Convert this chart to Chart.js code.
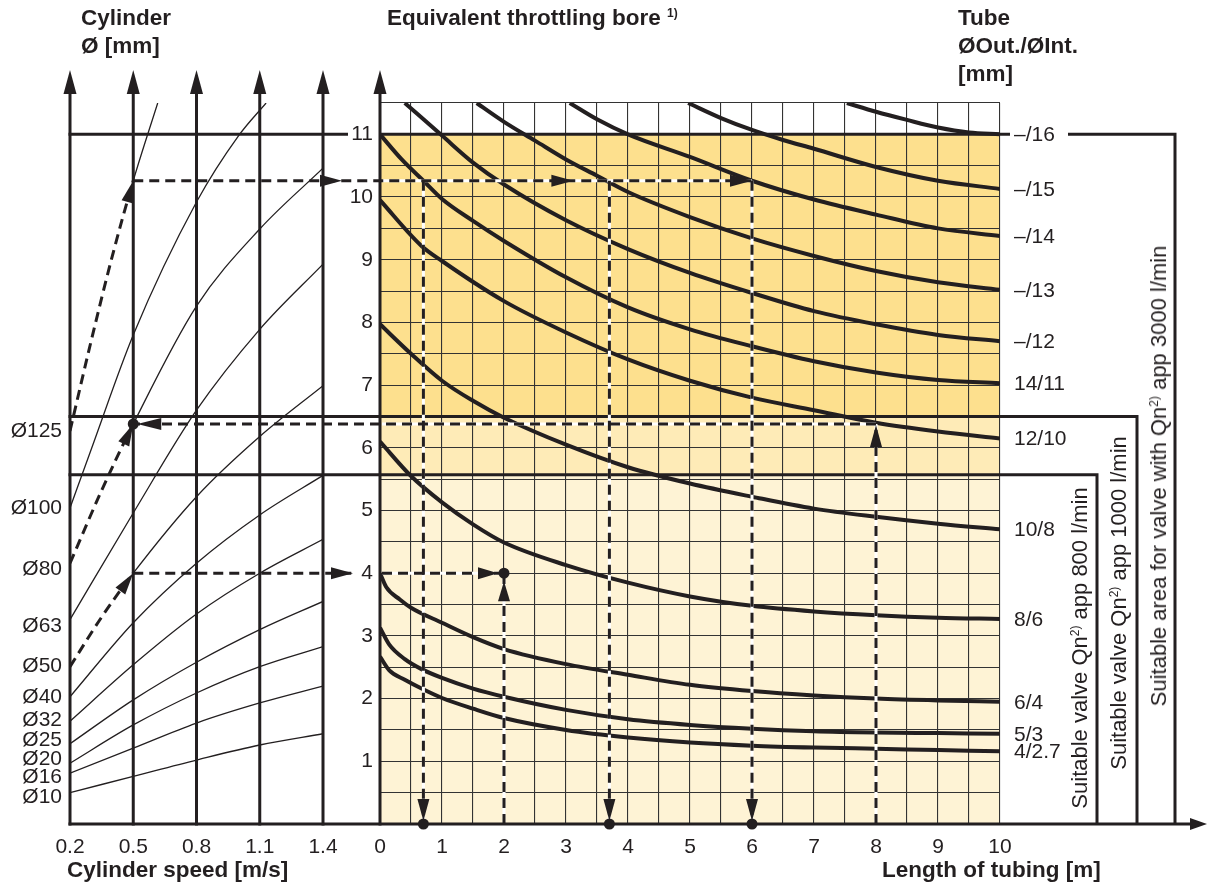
<!DOCTYPE html>
<html>
<head>
<meta charset="utf-8">
<script src="https://cdn.jsdelivr.net/npm/chart.js@4.4.1/dist/chart.umd.min.js"></script>
<style>
  html, body { margin: 0; padding: 0; background: #fff; }
  #wrap { position: relative; width: 1207px; height: 884px; overflow: hidden;
          font-family: "Liberation Sans", Arial, sans-serif; color: #231f20; }
  canvas { position: absolute; left: 0; top: 0; }
  .head { position: absolute; white-space: nowrap; font-weight: bold; font-size: 22.5px; line-height: 28px; }
  .side { position: absolute; white-space: nowrap; font-size: 22px; line-height: 24px;
          transform: translate(-50%, -50%) rotate(-90deg); }
  sup { font-size: 12px; vertical-align: 0.7em; line-height: 0; }
</style>
</head>
<body>
<div id="wrap">
  <canvas id="speedChart" width="1207" height="884"></canvas>
  <canvas id="tubeChart" width="1207" height="884"></canvas>

  <div class="head" style="left:81px; top:4px">Cylinder<br>Ø [mm]</div>
  <div class="head" style="left:387px; top:4px">Equivalent throttling bore <sup>1)</sup></div>
  <div class="head" style="left:958px; top:4px">Tube<br>ØOut./ØInt.<br>[mm]</div>
  <div class="head" style="left:67px; top:856px">Cylinder speed [m/s]</div>
  <div class="head" style="left:882px; top:856px">Length of tubing [m]</div>

  <div class="side" style="left:1080px; top:648px">Suitable valve Qn<sup>2)</sup> app 800 l/min</div>
  <div class="side" style="left:1119px; top:603px">Suitable valve Qn<sup>2)</sup> app 1000 l/min</div>
  <div class="side" style="left:1159px; top:476px">Suitable area for valve with Qn<sup>2)</sup> app 3000 l/min</div>
</div>

<script>
// ---- left diagram: cylinder speed [m/s] -> equivalent throttling bore [mm]
const speedTicks = [0.2, 0.5, 0.8, 1.1, 1.4];
const cylinderDiameters = [10, 16, 20, 25, 32, 40, 50, 63, 80, 100, 125];
const cylinderLabelAt = [0.43, 0.75, 1.04, 1.33, 1.65, 2.03, 2.51, 3.16, 4.07, 5.03, 6.26];

const cyl10  = [[0.2, 0.50], [0.5, 0.76], [0.8, 1.02], [1.1, 1.26], [1.4, 1.44]];
const cyl16  = [[0.2, 0.81], [0.5, 1.21], [0.8, 1.61], [1.1, 1.93], [1.4, 2.20]];
const cyl20  = [[0.2, 0.97], [0.5, 1.58], [0.8, 2.09], [1.1, 2.51], [1.4, 2.83]];
const cyl25  = [[0.2, 1.28], [0.5, 1.98], [0.8, 2.58], [1.1, 3.10], [1.4, 3.55]];
const cyl32  = [[0.2, 1.64], [0.5, 2.54], [0.8, 3.35], [1.1, 4.00], [1.4, 4.54]];
const cyl40  = [[0.2, 2.03], [0.5, 3.21], [0.8, 4.16], [1.1, 4.93], [1.4, 5.56]];
const cyl50  = [[0.2, 2.51], [0.35, 3.30], [0.5, 4.00], [0.8, 5.22], [1.1, 6.18], [1.4, 6.99]];
const cyl63  = [[0.2, 3.26], [0.5, 4.96], [0.8, 6.60], [1.1, 7.89], [1.4, 8.93]];
const cyl80  = [[0.2, 4.16], [0.35, 5.32], [0.5, 6.38], [0.8, 8.26], [1.1, 9.49], [1.4, 10.46]];
const cyl100 = [[0.2, 5.04], [0.3, 5.97], [0.5, 7.80], [0.8, 9.92], [1.0, 10.98], [1.13, 11.5]];
const cyl125 = [[0.2, 6.27], [0.3, 7.70], [0.4, 9.05], [0.5, 10.26], [0.616, 11.5]];
const cylinderCurves = [cyl10, cyl16, cyl20, cyl25, cyl32, cyl40, cyl50, cyl63, cyl80, cyl100, cyl125];
const dashedCylinders = [50, 80, 125];

// ---- right diagram: length of tubing [m] -> equivalent throttling bore [mm]
const tubeLabels = ['4/2.7', '5/3', '6/4', '8/6', '10/8', '12/10', '14/11', '–/12', '–/13', '–/14', '–/15', '–/16'];
const tube4_27 = [[0, 2.67], [0.15, 2.45], [0.4, 2.30], [0.67, 2.16], [1, 2.01], [1.5, 1.84], [2, 1.69], [3, 1.50], [4, 1.38], [5, 1.30], [6, 1.25], [7, 1.22], [8, 1.20], [9, 1.18], [10, 1.16]];
const tube5_3  = [[0, 3.13], [0.15, 2.86], [0.4, 2.63], [0.67, 2.47], [1, 2.33], [1.5, 2.16], [2, 2.03], [3, 1.82], [4, 1.67], [5, 1.58], [6, 1.52], [7, 1.48], [8, 1.46], [9, 1.45], [10, 1.44]];
const tube6_4  = [[0, 4.00], [0.1, 3.78], [0.32, 3.58], [0.5, 3.45], [1, 3.21], [1.5, 2.98], [2, 2.79], [3, 2.55], [4, 2.38], [5, 2.22], [6, 2.12], [7, 2.05], [8, 2.00], [9, 1.97], [10, 1.95]];
const tube8_6  = [[0, 6.10], [0.5, 5.55], [1, 5.13], [1.5, 4.78], [2, 4.49], [3, 4.13], [4, 3.85], [5, 3.63], [6, 3.48], [7, 3.39], [8, 3.33], [9, 3.29], [10, 3.27]];
const tube10_8 = [[0, 7.97], [0.5, 7.50], [1, 7.07], [1.5, 6.75], [2, 6.48], [3, 6.05], [4, 5.69], [5, 5.43], [6, 5.22], [7, 5.03], [8, 4.90], [9, 4.79], [10, 4.70]];
const tube12_10 = [[0, 9.95], [0.67, 9.22], [1, 8.98], [2, 8.34], [3, 7.84], [4, 7.41], [5, 7.07], [6, 6.80], [7, 6.60], [8, 6.40], [9, 6.26], [10, 6.15]];
const tube14_11 = [[0, 11.0], [0.35, 10.6], [0.7, 10.26], [1, 9.97], [1.5, 9.62], [2, 9.30], [3, 8.72], [4, 8.24], [5, 7.89], [6, 7.62], [7, 7.38], [8, 7.20], [9, 7.08], [10, 7.03]];
const tube_12 = [[0.4, 11.5], [1, 10.98], [1.5, 10.55], [2, 10.20], [3, 9.63], [4, 9.17], [5, 8.79], [6, 8.47], [7, 8.18], [8, 7.97], [9, 7.80], [10, 7.70]];
const tube_13 = [[1.56, 11.5], [2, 11.2], [2.5, 10.9], [3, 10.6], [3.5, 10.34], [4, 10.08], [5, 9.68], [6, 9.34], [7, 9.06], [8, 8.82], [9, 8.64], [10, 8.52]];
const tube_14 = [[3.06, 11.5], [3.5, 11.24], [4, 11.0], [5, 10.64], [6, 10.26], [7, 9.96], [8, 9.72], [9, 9.50], [10, 9.38]];
const tube_15 = [[4.97, 11.5], [5.5, 11.26], [6, 11.07], [6.5, 10.91], [7, 10.77], [8, 10.48], [9, 10.26], [10, 10.13]];
const tube_16 = [[7.53, 11.5], [8, 11.36], [8.5, 11.23], [9, 11.11], [9.5, 11.03], [10, 11.0]];
const tubeCurves = [tube4_27, tube5_3, tube6_4, tube8_6, tube10_8, tube12_10, tube14_11, tube_12, tube_13, tube_14, tube_15, tube_16];

// bore limits of the valve areas (3000, 1000, 800 l/min)
const valveLimits = [11, 6.5, 5.57];

// reading examples
const pickSpeed = 0.5;
const pickBoreHigh = 10.26;
const pickLengthsHigh = [0.7, 3.7, 6.0];
const pickBoreMid = 4.0;
const pickLengthMid = 2;
const pickBoreLow = 6.38;
const pickLengthLow = 8;

const ink = '#231f20';
const family = '"Liberation Sans", Arial, sans-serif';
const tickFont = { family: family, size: 21 };

function toXY(pts) {
    return pts.map(p => ({ x: p[0], y: p[1] }));
}

function line(ctx, pts) {
    ctx.beginPath();
    ctx.moveTo(pts[0][0], pts[0][1]);
    for (let i = 1; i < pts.length; i++) ctx.lineTo(pts[i][0], pts[i][1]);
    ctx.stroke();
}

function arrowHead(ctx, tipX, tipY, fromX, fromY, len, half) {
    const a = Math.atan2(tipY - fromY, tipX - fromX);
    const bx = tipX - len * Math.cos(a), by = tipY - len * Math.sin(a);
    ctx.beginPath();
    ctx.moveTo(tipX, tipY);
    ctx.lineTo(bx + half * Math.sin(a), by - half * Math.cos(a));
    ctx.lineTo(bx - half * Math.sin(a), by + half * Math.cos(a));
    ctx.closePath();
    ctx.fill();
}

function dot(ctx, x, y) {
    ctx.beginPath();
    ctx.arc(x, y, 5.5, 0, Math.PI * 2);
    ctx.fill();
}

function dashLine(ctx, pts) {
    ctx.save();
    ctx.setLineDash([10, 6]);
    line(ctx, pts);
    ctx.restore();
}

function whiteLine(ctx, pts) {
    ctx.save();
    ctx.strokeStyle = '#fff';
    line(ctx, pts);
    ctx.restore();
}

// Left diagram: thick speed lines with arrows, arrowheads on the dashed curve parts
const speedAxesPlugin = {
    id: 'speedAxes',
    afterDatasetsDraw(chart) {
        const { ctx, scales: { x, y } } = chart;
        ctx.save();
        ctx.strokeStyle = ink;
        ctx.fillStyle = ink;
        ctx.lineWidth = 3;
        speedTicks.forEach(v => {
            const px = x.getPixelForValue(v);
            line(ctx, [[px, y.getPixelForValue(0) + 1.5], [px, 90]]);
            arrowHead(ctx, px, 70, px, 100, 24, 6.5);
        });
        cylinderCurves.forEach((pts, i) => {
            if (!dashedCylinders.includes(cylinderDiameters[i])) return;
            const k = pts.findIndex(p => p[0] >= pickSpeed);
            arrowHead(ctx,
                x.getPixelForValue(pts[k][0]), y.getPixelForValue(pts[k][1]),
                x.getPixelForValue(pts[k - 1][0]), y.getPixelForValue(pts[k - 1][1]), 22, 6);
        });
        ctx.restore();
    }
};

const speedChart = new Chart(document.getElementById('speedChart'), {
    type: 'line',
    data: {
        datasets: cylinderCurves.map((pts, i) => {
            const dashed = dashedCylinders.includes(cylinderDiameters[i]);
            const before = c => c.p0.parsed.x < pickSpeed - 1e-6;
            return {
                label: 'Ø' + cylinderDiameters[i],
                data: toXY(pts),
                borderColor: ink,
                borderWidth: 1.3,
                pointRadius: 0,
                cubicInterpolationMode: 'monotone',
                segment: dashed ? {
                    borderDash: c => before(c) ? [10, 6] : undefined,
                    borderWidth: c => before(c) ? 3 : undefined
                } : {}
            };
        })
    },
    options: {
        responsive: false,
        animation: false,
        events: [],
        layout: { padding: { left: 0, right: 884, top: 103, bottom: 0 } },
        plugins: { legend: { display: false }, tooltip: { enabled: false } },
        scales: {
            x: {
                type: 'linear', min: 0.2, max: 1.4,
                afterBuildTicks: s => { s.ticks = speedTicks.map(v => ({ value: v })); },
                afterFit: s => { s.height = 60; },
                grid: { display: false, drawTicks: false },
                border: { display: false },
                ticks: { callback: v => v.toFixed(1), font: tickFont, color: ink, padding: 11, autoSkip: false, maxRotation: 0 }
            },
            y: {
                type: 'linear', min: 0, max: 11.5,
                afterBuildTicks: s => { s.ticks = cylinderLabelAt.map(v => ({ value: v })); },
                afterFit: s => { s.width = 70; },
                grid: { display: false, drawTicks: false },
                border: { display: false },
                ticks: { callback: (v, i) => 'Ø' + cylinderDiameters[i], font: tickFont, color: ink, padding: 8, autoSkip: false }
            }
        }
    },
    plugins: [speedAxesPlugin]
});

// Right diagram: coloured areas under the grid
const tubeBandsPlugin = {
    id: 'tubeBands',
    beforeDraw(chart) {
        const { ctx, scales: { x, y } } = chart;
        const l = x.getPixelForValue(0), r = x.getPixelForValue(10);
        const fills = [
            [0, valveLimits[2], '#fef3d5'],
            [valveLimits[2], valveLimits[1], '#feebb7'],
            [valveLimits[1], valveLimits[0], '#fde08e']
        ];
        ctx.save();
        fills.forEach(([a, b, c]) => {
            const top = y.getPixelForValue(b), bottom = y.getPixelForValue(a);
            ctx.fillStyle = c;
            ctx.fillRect(l, top, r - l, bottom - top);
        });
        ctx.restore();
    }
};

// Right diagram: axes, valve areas, reading examples and tube labels
const tubeOverlayPlugin = {
    id: 'tubeOverlay',
    afterDraw(chart) {
        const { ctx, scales: { x, y } } = chart;
        const sx = speedChart.scales.x;
        const X = v => x.getPixelForValue(v);
        const Y = v => y.getPixelForValue(v);
        const x0 = X(0), x10 = X(10), y0 = Y(0);
        const left = sx.getPixelForValue(speedTicks[0]) - 1.5;
        const sp = sx.getPixelForValue(pickSpeed);

        ctx.save();
        ctx.strokeStyle = ink;
        ctx.fillStyle = ink;
        ctx.lineWidth = 3;

        // axes
        line(ctx, [[x0, y0 + 1.5], [x0, 90]]);
        arrowHead(ctx, x0, 70, x0, 100, 24, 6.5);
        line(ctx, [[left, y0], [1192, y0]]);
        arrowHead(ctx, 1207, y0, 1180, y0, 17, 6);

        // valve areas
        const yTop = Y(valveLimits[0]), yMid = Y(valveLimits[1]), yLow = Y(valveLimits[2]);
        line(ctx, [[left, yTop], [x0 - 32, yTop]]);
        line(ctx, [[x0, yTop], [x10 + 10, yTop]]);
        line(ctx, [[1068, yTop], [1175, yTop], [1175, y0]]);
        line(ctx, [[left, yMid], [1137, yMid], [1137, y0]]);
        line(ctx, [[left, yLow], [1097, yLow], [1097, y0]]);

        // reading examples: white underlay inside the grid, then dashes
        const yh = Y(pickBoreHigh), ym = Y(pickBoreMid), yl = Y(pickBoreLow);
        const xh = pickLengthsHigh.map(X);
        const xEnd = xh[xh.length - 1];
        const xm = X(pickLengthMid), xl = X(pickLengthLow);
        whiteLine(ctx, [[x0 + 2, yh], [xEnd, yh]]);
        xh.forEach(px => whiteLine(ctx, [[px, yh], [px, y0 - 2]]));
        whiteLine(ctx, [[x0 + 2, ym], [xm, ym]]);
        whiteLine(ctx, [[xm, y0 - 2], [xm, ym]]);
        whiteLine(ctx, [[x0 + 2, yl], [xl, yl]]);
        whiteLine(ctx, [[xl, y0 - 2], [xl, yl]]);

        dashLine(ctx, [[sp, yh], [xEnd, yh]]);
        xh.forEach(px => dashLine(ctx, [[px, yh], [px, y0]]));
        dashLine(ctx, [[sp, ym], [x0 - 27, ym]]);
        dashLine(ctx, [[x0 + 2, ym], [xm, ym]]);
        dashLine(ctx, [[xm, y0], [xm, ym]]);
        dashLine(ctx, [[xl, yl], [sp, yl]]);
        dashLine(ctx, [[xl, y0], [xl, yl]]);

        arrowHead(ctx, x0 - 38, yh, x0 - 60, yh, 22, 6);
        arrowHead(ctx, xh[1] - 36, yh, xh[1] - 60, yh, 22, 6);
        arrowHead(ctx, xEnd, yh, xEnd - 30, yh, 22, 6);
        xh.forEach(px => { arrowHead(ctx, px, y0 - 3, px, y0 - 30, 22, 6); dot(ctx, px, y0); });
        arrowHead(ctx, x0 - 27, ym, x0 - 50, ym, 22, 6);
        arrowHead(ctx, xm - 6, ym, xm - 30, ym, 20, 6);
        arrowHead(ctx, xm, ym + 8, xm, ym + 30, 20, 6);
        dot(ctx, xm, ym);
        arrowHead(ctx, xl, yl + 1, xl, yl + 30, 22, 6);
        arrowHead(ctx, sp + 4, yl, sp + 30, yl, 24, 6);
        dot(ctx, sp, yl);

        // tube labels at the curve ends
        ctx.font = '21px ' + family;
        ctx.textAlign = 'left';
        ctx.textBaseline = 'middle';
        tubeCurves.forEach((pts, i) => {
            const last = pts[pts.length - 1];
            ctx.fillText(tubeLabels[i], x10 + 14, Y(last[1]) + 1);
        });
        ctx.restore();
    }
};

new Chart(document.getElementById('tubeChart'), {
    type: 'line',
    data: {
        datasets: tubeCurves.map((pts, i) => ({
            label: tubeLabels[i],
            data: toXY(pts),
            borderColor: ink,
            borderWidth: 4,
            pointRadius: 0,
            cubicInterpolationMode: 'monotone'
        }))
    },
    options: {
        responsive: false,
        animation: false,
        events: [],
        layout: { padding: { left: 340, right: 207, top: 103, bottom: 0 } },
        plugins: { legend: { display: false }, tooltip: { enabled: false } },
        scales: {
            x: {
                type: 'linear', min: 0, max: 10,
                afterFit: s => { s.height = 60; },
                grid: { color: '#333', lineWidth: 1.1, drawTicks: false },
                border: { display: false },
                ticks: { stepSize: 0.5, autoSkip: false, maxRotation: 0, font: tickFont, color: ink, padding: 11,
                         callback: v => Number.isInteger(v) ? String(v) : '' }
            },
            y: {
                type: 'linear', min: 0, max: 11.5,
                afterFit: s => { s.width = 40; },
                grid: { color: '#333', lineWidth: 1.1, drawTicks: false },
                border: { display: false },
                ticks: { stepSize: 0.5, autoSkip: false, font: tickFont, color: ink, padding: 7,
                         callback: v => (Number.isInteger(v) && v > 0) ? String(v) : '' }
            }
        }
    },
    plugins: [tubeBandsPlugin, tubeOverlayPlugin]
});
</script>
</body>
</html>
